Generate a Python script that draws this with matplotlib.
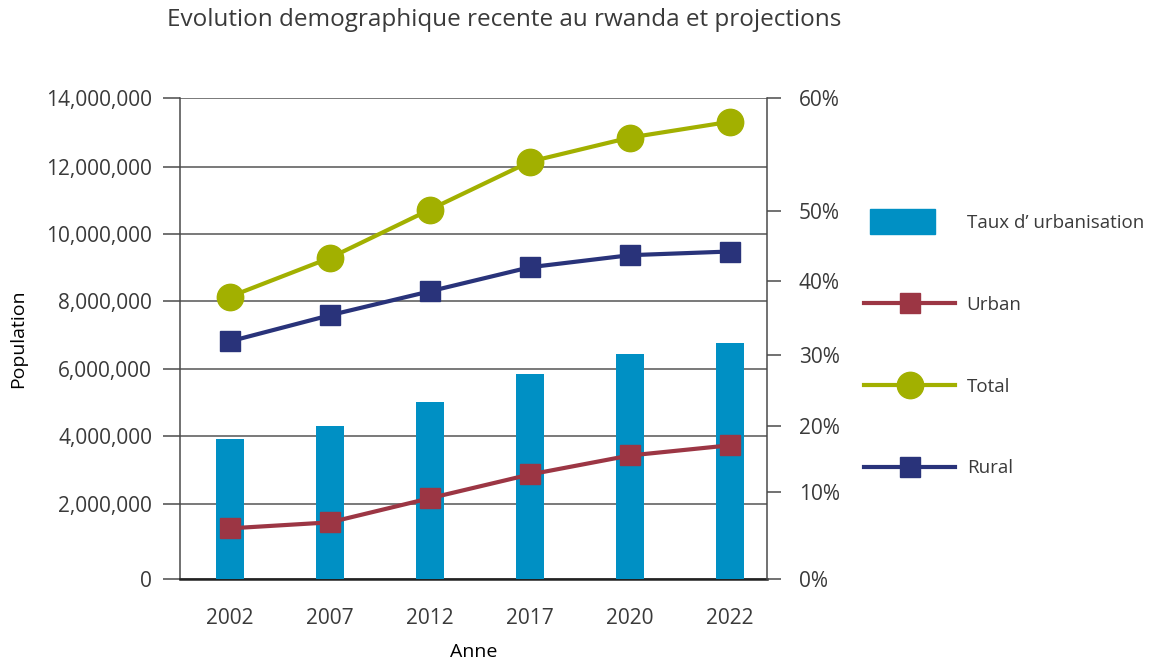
import matplotlib
matplotlib.use("Agg")
import matplotlib.pyplot as plt
import numpy as np
from matplotlib.patches import Rectangle
from matplotlib.legend_handler import HandlerPatch

# DATA
years = ["2002", "2007", "2012", "2017", "2020", "2022"]
total = [8.13e6, 9.29e6, 10.73e6, 12.15e6, 12.85e6, 13.31e6]
rural = [6.81e6, 7.58e6, 8.29e6, 9.01e6, 9.37e6, 9.48e6]
urban = [1.35e6, 1.51e6, 2.17e6, 2.87e6, 3.43e6, 3.73e6]
taux = [18.0, 20.0, 23.4, 27.3, 30.1, 31.6]  # % urbanisation

pop_ticks = [0, 2e6, 4e6, 6e6, 8e6, 10e6, 12e6, 14e6]
pct_ticks = [0, 10, 20, 30, 40, 50, 60]

# the source axes are not evenly spaced, this is where each tick sits (fraction of height)
POP_POS = [0, 0.156, 0.297, 0.437, 0.578, 0.717, 0.857, 1.0]
PCT_POS = [0, 0.1815, 0.319, 0.466, 0.6195, 0.765, 1.0]

C_BAR = "#0090c4"
C_URBAN = "#9c3644"
C_TOTAL = "#a2b000"
C_RURAL = "#29337a"
C_TEXT = "#3a3a3a"
C_AXIS = "#4a4a4a"

plt.rcParams["font.family"] = ["Open Sans", "DejaVu Sans"]
plt.rcParams["text.color"] = C_TEXT


def uneven(ticks, pos):
    t = np.asarray(ticks, float)
    p = np.asarray(pos, float)
    return (lambda v: np.interp(v, t, p), lambda v: np.interp(v, p, t))


fig = plt.figure(figsize=(11.52, 6.6), dpi=100)
rect = [180 / 1152, 81 / 660, 587 / 1152, 481 / 660]
ax = fig.add_axes(rect)      # grid + left axis
ax2 = ax.twinx()             # bars + right axis
ax3 = ax.twinx()             # lines, same scale as left
ax2.set_zorder(ax.get_zorder() + 1)
ax3.set_zorder(ax2.get_zorder() + 1)
ax2.patch.set_visible(False)
ax3.patch.set_visible(False)

x = np.arange(len(years))

for a in (ax, ax3):
    a.set_yscale("function", functions=uneven(pop_ticks, POP_POS))
    a.set_ylim(0, 14e6)
ax2.set_yscale("function", functions=uneven(pct_ticks, PCT_POS))
ax2.set_ylim(0, 60)
ax.set_xlim(-0.5, 5.37)

ax2.bar(x, taux, width=0.28, color=C_BAR)
l_urban, = ax3.plot(x, urban, color=C_URBAN, lw=3, marker="s", ms=14)
l_total, = ax3.plot(x, total, color=C_TOTAL, lw=3, marker="o", ms=19)
l_rural, = ax3.plot(x, rural, color=C_RURAL, lw=3, marker="s", ms=14)

# grid
ax.set_yticks(pop_ticks)
ax.set_yticklabels([f"{v:,.0f}" for v in pop_ticks])
ax.grid(axis="y", color="#555555", lw=1.1)
ax.tick_params(axis="y", direction="out", length=12, width=1.1, color=C_AXIS,
               labelsize=15, labelcolor=C_TEXT, pad=8)
ax.set_xticks(x)
ax.set_xticklabels(years)
ax.tick_params(axis="x", length=0, labelsize=15, labelcolor=C_TEXT, pad=21)
ax.set_xlabel("Anne", fontsize=14, labelpad=10)
ax.set_ylabel("Population", fontsize=14, labelpad=14)

ax2.set_yticks(pct_ticks)
ax2.set_yticklabels([f"{v}%" for v in pct_ticks])
ax2.tick_params(axis="y", direction="out", length=10, width=1.1, color=C_AXIS,
                labelsize=15, labelcolor=C_TEXT, pad=13)
ax3.set_yticks([])

for a in (ax, ax2, ax3):
    a.spines["top"].set_visible(False)
for a in (ax2, ax3):
    a.spines["bottom"].set_visible(False)
    a.spines["left"].set_visible(False)
ax3.spines["right"].set_visible(False)
ax.spines["right"].set_visible(False)
ax.spines["left"].set_color(C_AXIS)
ax.spines["left"].set_linewidth(1.1)
ax2.spines["right"].set_color(C_AXIS)
ax2.spines["right"].set_linewidth(1.1)
ax.spines["bottom"].set_color("#222222")
ax.spines["bottom"].set_linewidth(1.8)


def bar_handle(legend, orig_handle, xdescent, ydescent, width, height, fontsize):
    w = width * 0.71
    h = height * 1.9
    return Rectangle((-xdescent + (width - w) / 2 - 5, -ydescent + (height - h) / 2), w, h)


bar_key = Rectangle((0, 0), 1, 1, color=C_BAR)
fig.legend([bar_key, l_urban, l_total, l_rural],
           ["Taux d\u2019 urbanisation", "Urban", "Total", "Rural"],
           loc="center left", bbox_to_anchor=(0.735, 0.476), frameon=False,
           fontsize=13.5, handlelength=4.9, labelspacing=3.4, handletextpad=0.6,
           handler_map={Rectangle: HandlerPatch(patch_func=bar_handle)})

fig.text(0.438, 1 - 20 / 660, "Evolution demographique recente au rwanda et projections",
         ha="center", va="center", fontsize=17.5)

plt.savefig("out.png", dpi=100)
